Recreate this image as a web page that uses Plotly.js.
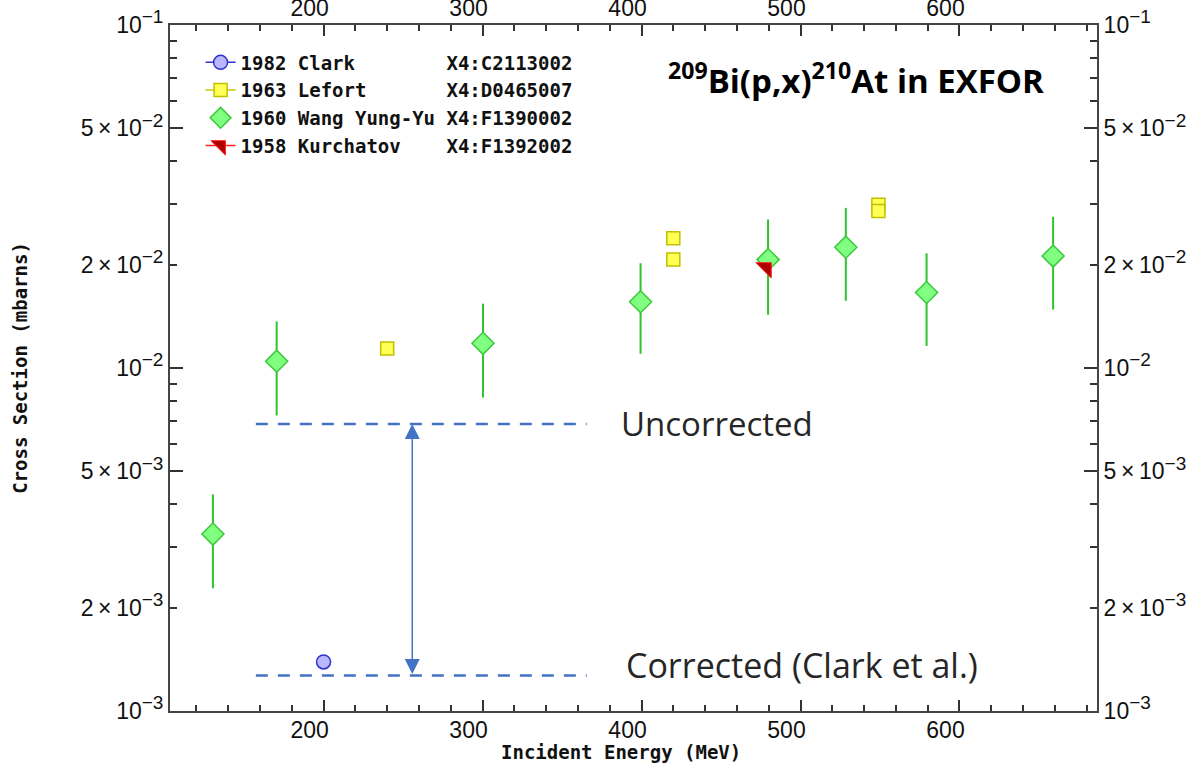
<!DOCTYPE html>
<html>
<head>
<meta charset="utf-8">
<script src="https://cdn.plot.ly/plotly-3.0.1.min.js"></script>
<style>html,body{margin:0;padding:0;background:#fff;}#chart{width:1194px;height:769px;}</style>
</head>
<body>
<div id="chart"></div>
<script>
// ---- data (incident energy in MeV, cross section in mb) ----
const clarkE = [200];
const clarkS = [1.39e-3];

const lefortE = [240, 420, 420, 549, 549];
const lefortS = [1.14e-2, 2.39e-2, 2.07e-2, 2.99e-2, 2.87e-2];

const wangE = [130.4, 170.5, 300.3, 399.4, 479.6, 528.5, 579.3, 658.9];
const wangS = [3.28e-3, 1.047e-2, 1.18e-2, 1.56e-2, 2.07e-2, 2.25e-2, 1.66e-2, 2.12e-2];
const wangErr = [1.0e-3, 3.2e-3, 3.6e-3, 4.6e-3, 6.4e-3, 6.8e-3, 5.0e-3, 6.4e-3];

const kurE = [478.4];
const kurS = [1.96e-2];

const legendNames = [
  "1982\u00A0Clark\u00A0\u00A0\u00A0\u00A0\u00A0\u00A0\u00A0\u00A0X4:C2113002",
  "1963\u00A0Lefort\u00A0\u00A0\u00A0\u00A0\u00A0\u00A0\u00A0X4:D0465007",
  "1960\u00A0Wang\u00A0Yung-Yu\u00A0X4:F1390002",
  "1958\u00A0Kurchatov\u00A0\u00A0\u00A0\u00A0X4:F1392002"
];

// annotation levels
const uncorrectedLevel = 6.87e-3;
const correctedLevel = 1.27e-3;
const bracketE = [157.4, 365.5];
const arrowE = 255.8;

// axis ticks
const xMajor = [200, 300, 400, 500, 600];
const yLabelVals = [1e-3, 2e-3, 5e-3, 1e-2, 2e-2, 5e-2, 1e-1];
const sup = function (t) { return '<sup><span style="font-size:19px">' + t + '</span></sup>'; };
const yLabelText = [
  "10" + sup("\u22123"), "2\u2009\u00D7\u200910" + sup("\u22123"), "5\u2009\u00D7\u200910" + sup("\u22123"),
  "10" + sup("\u22122"), "2\u2009\u00D7\u200910" + sup("\u22122"), "5\u2009\u00D7\u200910" + sup("\u22122"),
  "10" + sup("\u22121")
];
const yLongVals = [1e-3, 5e-3, 1e-2, 5e-2, 1e-1];

// helper: separate points by nulls so 'lines' mode shows only in legend
function isolate(arr) {
  const out = [];
  arr.forEach(function (v, i) { if (i > 0) out.push(null); out.push(v); });
  return out;
}

const axisColor = '#454545';
const tickColor = '#333333';
function monoFont() { return {family: 'DejaVu Sans Mono', size: 19, color: '#111111', weight: 'bold'}; }
function tickFont() { return {family: 'Liberation Sans', size: 23, color: '#111111'}; }

const traces = [
  {
    x: clarkE, y: clarkS, name: legendNames[0], mode: 'lines+markers',
    line: {color: '#3333cc', width: 1.5},
    marker: {symbol: 'circle', size: 14, color: '#b8b8ff', line: {color: '#3030d0', width: 1.5}}
  },
  {
    x: isolate(lefortE), y: isolate(lefortS), name: legendNames[1], mode: 'lines+markers',
    connectgaps: false,
    line: {color: '#c8c800', width: 1.5},
    marker: {symbol: 'square', size: 13, color: '#ffff55', line: {color: '#c0c000', width: 1.5}}
  },
  {
    x: wangE, y: wangS, name: legendNames[2], mode: 'markers',
    error_y: {type: 'data', array: wangErr, visible: true, color: '#2ec22e', thickness: 2, width: 0},
    marker: {symbol: 'diamond', size: 17, color: '#80ff80', line: {color: '#3cc83c', width: 1.5}}
  },
  {
    x: kurE, y: kurS, name: legendNames[3], mode: 'lines+markers',
    line: {color: '#ff2020', width: 1.5},
    marker: {symbol: 'triangle-ne', size: 17, color: '#b00000', line: {color: '#ff2020', width: 1}}
  },
  // empty traces that register the extra axes
  {x: [], y: [], xaxis: 'x2', yaxis: 'y2', showlegend: false, hoverinfo: 'skip'},
  {x: [], y: [], xaxis: 'x', yaxis: 'y3', showlegend: false, hoverinfo: 'skip'},
  {x: [], y: [], xaxis: 'x2', yaxis: 'y4', showlegend: false, hoverinfo: 'skip'}
];

const xRange = [103.4, 686.5];
const yRange = [-3, -1];

function xa(extra) {
  const a = {
    range: xRange, showline: true, linecolor: axisColor, linewidth: 2,
    tickmode: 'array', tickvals: xMajor, ticktext: xMajor.map(String),
    ticks: 'inside', ticklen: 11, tickwidth: 2, tickcolor: tickColor,
    minor: {dtick: 20, tick0: 0, ticks: 'inside', ticklen: 6, tickwidth: 2, tickcolor: tickColor, showgrid: false},
    showgrid: false, zeroline: false, tickfont: tickFont(), ticklabelshift: -14
  };
  return Object.assign(a, extra);
}
function ya(extra) {
  const a = {
    type: 'log', range: yRange, showline: true, linecolor: axisColor, linewidth: 2,
    tickmode: 'array', tickvals: yLabelVals, ticktext: yLabelText,
    ticks: 'inside', ticklen: 7, tickwidth: 2, tickcolor: tickColor,
    minor: {dtick: 'D1', ticks: 'inside', ticklen: 7, tickwidth: 2, tickcolor: tickColor, showgrid: false},
    showgrid: false, zeroline: false, tickfont: tickFont()
  };
  return Object.assign(a, extra);
}
function yLong(extra) {
  const a = {
    type: 'log', range: yRange, overlaying: 'y', anchor: 'x', showgrid: false, zeroline: false,
    showline: false, tickmode: 'array', tickvals: yLongVals, showticklabels: false,
    ticks: 'inside', ticklen: 13, tickwidth: 2, tickcolor: tickColor
  };
  return Object.assign(a, extra);
}

const layout = {
  width: 1194, height: 769,
  margin: {l: 170, r: 97, t: 25, b: 58},
  paper_bgcolor: '#ffffff', plot_bgcolor: '#ffffff',
  showlegend: true,
  legend: {
    x: 0.033, y: 0.973, xanchor: 'left', yanchor: 'top',
    bgcolor: 'rgba(0,0,0,0)', borderwidth: 0, font: monoFont()
  },
  xaxis: xa({side: 'bottom', anchor: 'y', ticklabelstandoff: -3}),
  xaxis2: xa({side: 'top', overlaying: 'x', anchor: 'y', ticklabelstandoff: -2}),
  yaxis: ya({side: 'left', anchor: 'x'}),
  yaxis2: ya({side: 'right', overlaying: 'y', anchor: 'x'}),
  yaxis3: yLong({side: 'left'}),
  yaxis4: yLong({side: 'right'}),
  shapes: [
    {type: 'line', xref: 'x', yref: 'y', x0: bracketE[0], x1: bracketE[1], y0: uncorrectedLevel, y1: uncorrectedLevel,
     line: {color: '#4472c4', width: 2.5, dash: '12px,10px'}},
    {type: 'line', xref: 'x', yref: 'y', x0: bracketE[0], x1: bracketE[1], y0: correctedLevel, y1: correctedLevel,
     line: {color: '#4472c4', width: 2.5, dash: '12px,10px'}}
  ],
  annotations: [
    {xref: 'x', yref: 'y', x: arrowE, y: Math.log10(uncorrectedLevel), ax: arrowE, ay: Math.log10(correctedLevel),
     axref: 'x', ayref: 'y', text: '', showarrow: true, arrowside: 'end+start',
     arrowhead: 2, startarrowhead: 2, arrowsize: 2, startarrowsize: 2, arrowwidth: 1.5, arrowcolor: '#4472c4'},
    {xref: 'x', yref: 'y', x: 385.6, y: Math.log10(uncorrectedLevel), xanchor: 'left', yanchor: 'middle',
     text: 'Uncorrected', showarrow: false, font: {family: 'Open Sans', size: 33, color: '#262626'}},
    {xref: 'x', yref: 'y', x: 388.7, y: Math.log10(1.36e-3), xanchor: 'left', yanchor: 'middle',
     text: 'Corrected (Clark et al.)', showarrow: false, font: {family: 'Open Sans', size: 34, color: '#262626'}},
    {xref: 'paper', yref: 'paper', x: 0.535, y: 0.922, xanchor: 'left', yanchor: 'middle',
     text: '<sup>209</sup>Bi(p,x)<sup>210</sup>At in EXFOR', showarrow: false,
     font: {family: 'Open Sans', size: 33, color: '#000000', weight: 'bold'}},
    {xref: 'paper', yref: 'paper', x: 0.487, y: -0.060, xanchor: 'center', yanchor: 'middle',
     text: 'Incident Energy (MeV)', showarrow: false, font: monoFont()},
    {xref: 'paper', yref: 'paper', x: -0.162, y: 0.5, xanchor: 'center', yanchor: 'middle', textangle: -90,
     text: 'Cross Section (mbarns)', showarrow: false, font: monoFont()}
  ]
};

Plotly.newPlot('chart', traces, layout, {displayModeBar: false});
</script>
</body>
</html>
